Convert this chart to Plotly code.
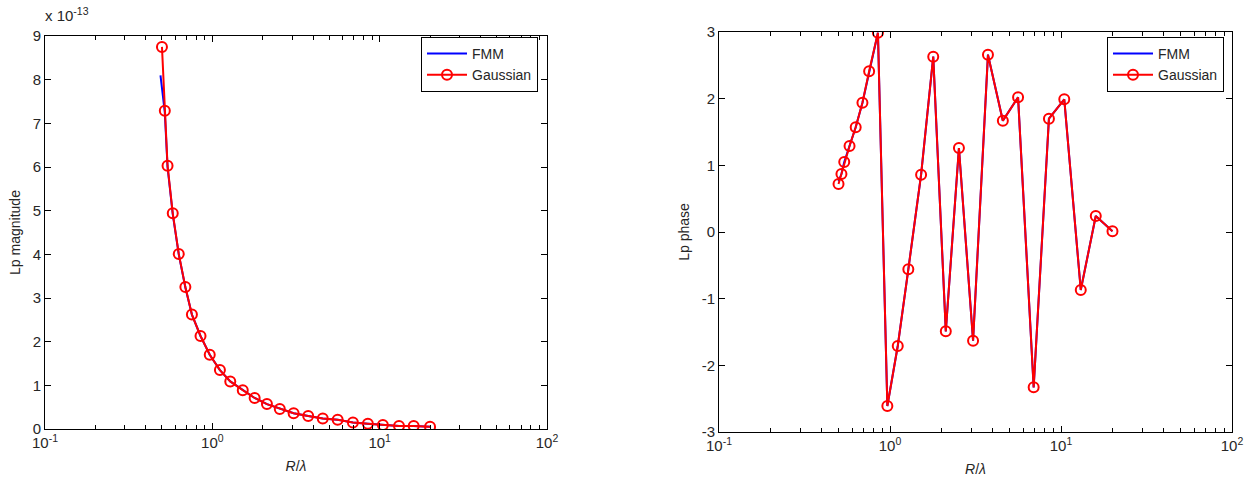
import plotly.graph_objects as go

# ---- data ----
R_gauss = [0.50, 0.52, 0.54, 0.58, 0.63, 0.69, 0.755, 0.85, 0.965, 1.11, 1.28, 1.52,
           1.79, 2.12, 2.53, 3.06, 3.74, 4.57, 5.61, 6.92, 8.5, 10.45, 13.05, 15.97, 20.0]
mag_gauss = [8.75, 7.29, 6.03, 4.94, 4.01, 3.25, 2.62, 2.13, 1.70, 1.35, 1.09, 0.89, 0.71,
             0.57, 0.46, 0.36, 0.30, 0.24, 0.21, 0.15, 0.12, 0.09, 0.07, 0.07, 0.05]
phase_gauss = [0.72, 0.87, 1.05, 1.29, 1.57, 1.94, 2.41, 2.99, -2.61, -1.71, -0.56, 0.86, 2.63,
               -1.49, 1.26, -1.63, 2.66, 1.67, 2.02, -2.33, 1.70, 1.99, -0.87, 0.24, 0.01]

R_fmm = [0.49, 0.52, 0.54, 0.58, 0.63, 0.69, 0.755, 0.85, 0.965, 1.11, 1.28, 1.52,
         1.79, 2.12, 2.53, 3.06, 3.74, 4.57, 5.61, 6.92, 8.5, 10.45, 13.05, 15.97, 20.0]
mag_fmm = [8.10, 7.25, 6.00, 4.92, 4.00, 3.24, 2.62, 2.13, 1.70, 1.35, 1.09, 0.89, 0.71,
           0.57, 0.46, 0.36, 0.30, 0.24, 0.21, 0.15, 0.12, 0.09, 0.07, 0.07, 0.05]
phase_fmm = [0.76, 0.87, 1.05, 1.29, 1.57, 1.94, 2.41, 2.99, -2.61, -1.71, -0.56, 0.86, 2.63,
             -1.49, 1.26, -1.63, 2.66, 1.67, 2.02, -2.33, 1.70, 1.99, -0.87, 0.24, 0.01]

x_tickvals = [0.1, 1, 10, 100]
x_ticktext = ["10<sup>-1</sup>", "10<sup>0</sup>", "10<sup>1</sup>", "10<sup>2</sup>"]
x_minor = [m * 10.0 ** e for e in (-1, 0, 1) for m in range(2, 10)]
mag_ticks = [0, 1, 2, 3, 4, 5, 6, 7, 8, 9]
phase_ticks = [-3, -2, -1, 0, 1, 2, 3]
phase_ticktext = ["-3", "-2", "-1", "0", "1", "2", "3"]

FONT = "Liberation Sans, Arial, sans-serif"
TXT = "#262626"
W, H = 1245, 478

fig = go.Figure()

fig.add_trace(go.Scatter(x=R_fmm, y=mag_fmm, mode="lines", name="FMM",
                         line=dict(color="#0000ff", width=2), xaxis="x", yaxis="y",
                         legend="legend"))
fig.add_trace(go.Scatter(x=R_gauss, y=mag_gauss, mode="lines+markers", name="Gaussian",
                         line=dict(color="#ff0000", width=2),
                         marker=dict(symbol="circle-open", size=10, color="#ff0000",
                                     line=dict(width=2)),
                         xaxis="x", yaxis="y", legend="legend"))
fig.add_trace(go.Scatter(x=R_gauss, y=phase_fmm, mode="lines", name="FMM",
                         line=dict(color="#0000ff", width=2), xaxis="x2", yaxis="y2",
                         legend="legend2"))
fig.add_trace(go.Scatter(x=R_gauss, y=phase_gauss, mode="lines+markers", name="Gaussian",
                         line=dict(color="#ff0000", width=2),
                         marker=dict(symbol="circle-open", size=10, color="#ff0000",
                                     line=dict(width=2)),
                         xaxis="x2", yaxis="y2", legend="legend2"))

def px_x(p):
    return p / W

def px_y(p):
    return 1 - p / H

common_x = dict(type="log", range=[-1, 2], tickmode="array", tickvals=x_tickvals,
                ticktext=x_ticktext, automargin=False,
                ticks="inside", ticklen=6, tickcolor="black", showline=True,
                linecolor="black", linewidth=1, mirror="ticks", showgrid=False,
                zeroline=False, tickfont=dict(family=FONT, size=15, color=TXT),
                minor=dict(tickmode="array", tickvals=x_minor, ticks="inside",
                           ticklen=4, tickcolor="black", showgrid=False))
common_y = dict(ticks="inside", ticklen=6, tickcolor="black", showline=True,
                linecolor="black", linewidth=1, mirror="ticks", showgrid=False,
                zeroline=False, automargin=False,
                tickfont=dict(family=FONT, size=15, color=TXT))

fig.update_layout(
    width=W, height=H,
    margin=dict(l=0, r=0, t=0, b=0),
    paper_bgcolor="white", plot_bgcolor="white",
    font=dict(family=FONT, size=14, color=TXT),
    xaxis=dict(domain=[px_x(45), px_x(547)], anchor="y",
               title=dict(text="<i>R</i>/<i>λ</i>", font=dict(size=14), standoff=11),
               **common_x),
    yaxis=dict(domain=[px_y(429), px_y(36)], anchor="x", range=[0, 9],
               tickmode="array", tickvals=mag_ticks,
               title=dict(text="Lp magnitude", font=dict(size=14), standoff=8),
               **common_y),
    xaxis2=dict(domain=[px_x(719), px_x(1232)], anchor="y2",
                title=dict(text="<i>R</i>/<i>λ</i>", font=dict(size=14), standoff=11),
                **common_x),
    yaxis2=dict(domain=[px_y(432), px_y(32)], anchor="x2", range=[-3, 3],
                tickmode="array", tickvals=phase_ticks, ticktext=phase_ticktext,
                title=dict(text="Lp phase", font=dict(size=14), standoff=8),
                **common_y),
    legend=dict(x=px_x(538), y=px_y(37), xanchor="right", yanchor="top",
                bordercolor="black", borderwidth=1, bgcolor="white",
                font=dict(family=FONT, size=14, color=TXT),
                tracegroupgap=0, itemwidth=40),
    legend2=dict(x=px_x(1224), y=px_y(37), xanchor="right", yanchor="top",
                 bordercolor="black", borderwidth=1, bgcolor="white",
                 font=dict(family=FONT, size=14, color=TXT),
                 tracegroupgap=0, itemwidth=40),
    annotations=[dict(text="x 10<sup>-13</sup>", x=px_x(43), y=px_y(14),
                      xref="paper", yref="paper", xanchor="left", yanchor="middle",
                      showarrow=False, font=dict(family=FONT, size=15, color=TXT))],
)

fig.write_html(
    "out.html",
    config={"displayModeBar": False},
    post_script="document.body.style.margin='0';document.body.style.overflow='hidden';",
)
